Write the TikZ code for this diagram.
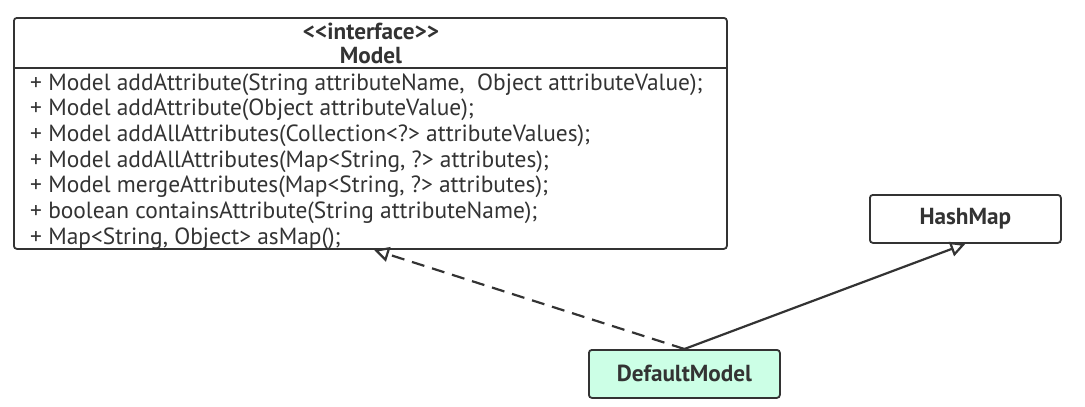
\documentclass[tikz,border=0pt]{standalone}
\usepackage{fontspec}
\setmainfont{PT Sans}
\usetikzlibrary{arrows.meta}
\definecolor{lc}{HTML}{333333}
\definecolor{mint}{HTML}{CCFFE6}
\tikzset{
  box/.style={draw=lc, line width=1.8pt, rounded corners=3pt, fill=white, inner sep=0pt},
  meth/.style={anchor=base west, inner sep=0pt, text=lc, font=\fontsize{23.4}{25}\selectfont},
  hdr/.style={anchor=base, inner sep=0pt, text=lc, font=\fontsize{23.2}{25}\selectfont\bfseries},
  tri/.style={-{Triangle[open, length=15pt, width=15pt, fill=white]}, draw=lc, line width=2.2pt},
}
\begin{document}
\begin{tikzpicture}[x=1pt, y=-1pt]
\useasboundingbox (0,0) rectangle (1085,407);
\node[box, minimum width=713pt, minimum height=231pt, anchor=north west] (model) at (13,17) {};
\draw[lc, line width=1.8pt] (13,68) -- (726,68);
\node[hdr] (st) at (371,39) {<{}<interface>{}>};
\node[hdr] (mn) at (371,63) {Model};
\node[meth] (m1) at (30,90) {+ Model addAttribute(String attributeName,\ \ Object attributeValue);};
\node[meth] (m2) at (30,115.7) {+ Model addAttribute(Object attributeValue);};
\node[meth] (m3) at (30,141.4) {+ Model addAllAttributes(Collection<?> attributeValues);};
\node[meth] (m4) at (30,167.1) {+ Model addAllAttributes(Map<String, ?> attributes);};
\node[meth] (m5) at (30,192.8) {+ Model mergeAttributes(Map<String, ?> attributes);};
\node[meth] (m6) at (30,218.5) {+ boolean containsAttribute(String attributeName);};
\node[meth] (m7) at (30,244.2) {+ Map<String, Object> asMap();};
\node[box, minimum width=191pt, minimum height=48pt, anchor=north west, font=\fontsize{23.2}{25}\selectfont\bfseries, text=lc] (hash) at (869,194) {HashMap};
\node[box, fill=mint, minimum width=191pt, minimum height=48pt, anchor=north west, font=\fontsize{23.2}{25}\selectfont\bfseries, text=lc] (dm) at (588,349) {DefaultModel};
\draw[tri, dash pattern=on 13pt off 8pt] (dm.north) -- (model.south -| 374,0);
\draw[tri] (dm.north) -- (hash.south);
\end{tikzpicture}
\end{document}
